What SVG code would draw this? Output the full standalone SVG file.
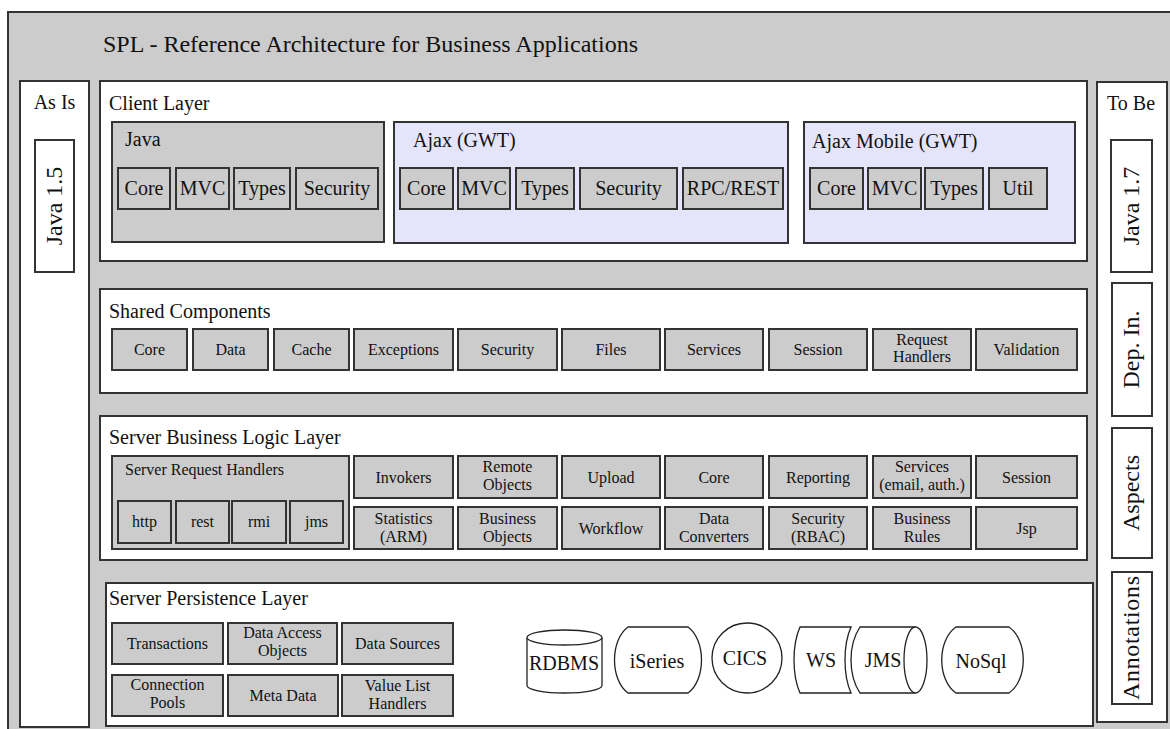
<svg xmlns="http://www.w3.org/2000/svg" width="1170" height="729" viewBox="0 0 1170 729" font-family="'Liberation Serif', 'DejaVu Serif', serif">
<style>
.bg{fill:#cccccc;stroke:#333;stroke-width:2}
.frame{fill:#ffffff;stroke:#333;stroke-width:2}
.gray{fill:#cccccc;stroke:#333;stroke-width:2}
.lav{fill:#e4e4fb;stroke:#333;stroke-width:2}
.btn{fill:#cccccc;stroke:#333;stroke-width:2}
.shp{fill:#ffffff;stroke:#222;stroke-width:1.3}
text{font-family:'Liberation Serif','DejaVu Serif',serif;fill:#111}
.t24{font-size:24px}
.t20{font-size:20px}
.t16{font-size:16px}
.c{text-anchor:middle}
</style>
<rect class="bg" x="8" y="12" width="1200" height="800"/>
<text class="t24" x="103" y="52">SPL - Reference Architecture for Business Applications</text>

<g id="as-is">
<rect class="frame" x="20" y="81" width="69" height="646"/>
<text class="t20 c" x="54.5" y="109">As Is</text>
<g id="java-15">
<rect class="frame" x="35" y="140" width="39" height="132"/>
<text class="t24 c" transform="translate(61.5,206) rotate(-90)">Java 1.5</text>
</g>
</g>

<g id="to-be">
<rect class="frame" x="1097" y="82" width="70" height="640"/>
<text class="t20 c" x="1131" y="110">To Be</text>
<g id="java-17">
<rect class="frame" x="1111" y="140" width="41" height="132"/>
<text class="t24 c" transform="translate(1139,206) rotate(-90)">Java 1.7</text>
</g>
<g id="dep-in">
<rect class="frame" x="1112" y="283" width="40" height="133"/>
<text class="t24 c" transform="translate(1139,349.5) rotate(-90)">Dep. In.</text>
</g>
<g id="aspects">
<rect class="frame" x="1112" y="428" width="40" height="130"/>
<text class="t24 c" transform="translate(1139,493) rotate(-90)">Aspects</text>
</g>
<g id="annotations">
<rect class="frame" x="1112" y="572" width="40" height="132"/>
<text class="t24 c" transform="translate(1139,638) rotate(-90)" textLength="124" lengthAdjust="spacing">Annotations</text>
</g>
</g>

<g id="client-layer">
<rect class="frame" x="100" y="81" width="987" height="180"/>
<text class="t20" x="109" y="110">Client Layer</text>
<g id="client-java">
<rect class="gray" x="112" y="122" width="272" height="120"/>
<text class="t20" x="125" y="146">Java</text>
<g id="cj-core"><rect class="btn" x="118" y="168" width="52" height="41"/><text class="t20 c" x="144" y="195">Core</text></g>
<g id="cj-mvc"><rect class="btn" x="176" y="168" width="53" height="41"/><text class="t20 c" x="202.5" y="195">MVC</text></g>
<g id="cj-types"><rect class="btn" x="234" y="168" width="56" height="41"/><text class="t20 c" x="262" y="195">Types</text></g>
<g id="cj-security"><rect class="btn" x="296" y="168" width="82" height="41"/><text class="t20 c" x="337" y="195">Security</text></g>
</g>
<g id="client-ajax">
<rect class="lav" x="394" y="122" width="394" height="121"/>
<text class="t20" x="413" y="147">Ajax (GWT)</text>
<g id="ca-core"><rect class="btn" x="400" y="168" width="53" height="41"/><text class="t20 c" x="426.5" y="195">Core</text></g>
<g id="ca-mvc"><rect class="btn" x="458" y="168" width="52" height="41"/><text class="t20 c" x="484" y="195">MVC</text></g>
<g id="ca-types"><rect class="btn" x="516" y="168" width="58" height="41"/><text class="t20 c" x="545" y="195">Types</text></g>
<g id="ca-security"><rect class="btn" x="580" y="168" width="97" height="41"/><text class="t20 c" x="628.5" y="195">Security</text></g>
<g id="ca-rpc"><rect class="btn" x="683" y="168" width="100" height="41"/><text class="t20 c" x="733" y="195">RPC/REST</text></g>
</g>
<g id="client-mobile">
<rect class="lav" x="804" y="122" width="271" height="121"/>
<text class="t20" x="812" y="148">Ajax Mobile (GWT)</text>
<g id="cm-core"><rect class="btn" x="810" y="168" width="53" height="41"/><text class="t20 c" x="836.5" y="195">Core</text></g>
<g id="cm-mvc"><rect class="btn" x="868" y="168" width="53" height="41"/><text class="t20 c" x="894.5" y="195">MVC</text></g>
<g id="cm-types"><rect class="btn" x="925" y="168" width="58" height="41"/><text class="t20 c" x="954" y="195">Types</text></g>
<g id="cm-util"><rect class="btn" x="989" y="168" width="58" height="41"/><text class="t20 c" x="1018" y="195">Util</text></g>
</g>
</g>

<g id="shared-components">
<rect class="frame" x="100" y="289" width="987" height="104"/>
<text class="t20" x="109" y="318">Shared Components</text>
<g id="sc-core"><rect class="btn" x="112" y="329" width="75" height="41"/><text class="t16 c" x="149.5" y="355">Core</text></g>
<g id="sc-data"><rect class="btn" x="193" y="329" width="75" height="41"/><text class="t16 c" x="230.5" y="355">Data</text></g>
<g id="sc-cache"><rect class="btn" x="274" y="329" width="75" height="41"/><text class="t16 c" x="311.5" y="355">Cache</text></g>
<g id="sc-exceptions"><rect class="btn" x="354" y="329" width="99" height="41"/><text class="t16 c" x="403.5" y="355">Exceptions</text></g>
<g id="sc-security"><rect class="btn" x="458" y="329" width="99" height="41"/><text class="t16 c" x="507.5" y="355">Security</text></g>
<g id="sc-files"><rect class="btn" x="562" y="329" width="98" height="41"/><text class="t16 c" x="611" y="355">Files</text></g>
<g id="sc-services"><rect class="btn" x="665" y="329" width="98" height="41"/><text class="t16 c" x="714" y="355">Services</text></g>
<g id="sc-session"><rect class="btn" x="769" y="329" width="98" height="41"/><text class="t16 c" x="818" y="355">Session</text></g>
<g id="sc-request-handlers"><rect class="btn" x="873" y="329" width="98" height="41"/><text class="t16 c" x="922" y="345">Request</text><text class="t16 c" x="922" y="362">Handlers</text></g>
<g id="sc-validation"><rect class="btn" x="976" y="329" width="101" height="41"/><text class="t16 c" x="1026.5" y="355">Validation</text></g>
</g>

<g id="server-business-logic">
<rect class="frame" x="100" y="416" width="987" height="144"/>
<text class="t20" x="109" y="444">Server Business Logic Layer</text>
<g id="server-request-handlers">
<rect class="gray" x="112" y="456" width="237" height="93"/>
<text class="t16" x="125" y="475">Server Request Handlers</text>
<g id="srh-http"><rect class="btn" x="118" y="501" width="53" height="42"/><text class="t16 c" x="144.5" y="527">http</text></g>
<g id="srh-rest"><rect class="btn" x="176" y="501" width="53" height="42"/><text class="t16 c" x="202.5" y="527">rest</text></g>
<g id="srh-rmi"><rect class="btn" x="232" y="501" width="54" height="42"/><text class="t16 c" x="259" y="527">rmi</text></g>
<g id="srh-jms"><rect class="btn" x="290" y="501" width="53" height="42"/><text class="t16 c" x="316.5" y="527">jms</text></g>
</g>
<g id="bl-invokers"><rect class="btn" x="354" y="456" width="99" height="42"/><text class="t16 c" x="403.5" y="482.5">Invokers</text></g>
<g id="bl-remote-objects"><rect class="btn" x="458" y="456" width="99" height="42"/><text class="t16 c" x="507.5" y="472">Remote</text><text class="t16 c" x="507.5" y="490">Objects</text></g>
<g id="bl-upload"><rect class="btn" x="562" y="456" width="98" height="42"/><text class="t16 c" x="611" y="482.5">Upload</text></g>
<g id="bl-core"><rect class="btn" x="665" y="456" width="98" height="42"/><text class="t16 c" x="714" y="482.5">Core</text></g>
<g id="bl-reporting"><rect class="btn" x="769" y="456" width="98" height="42"/><text class="t16 c" x="818" y="482.5">Reporting</text></g>
<g id="bl-services"><rect class="btn" x="873" y="456" width="98" height="42"/><text class="t16 c" x="922" y="472">Services</text><text class="t16 c" x="922" y="490">(email, auth.)</text></g>
<g id="bl-session"><rect class="btn" x="976" y="456" width="101" height="42"/><text class="t16 c" x="1026.5" y="482.5">Session</text></g>
<g id="bl-statistics"><rect class="btn" x="354" y="507" width="99" height="42"/><text class="t16 c" x="403.5" y="524">Statistics</text><text class="t16 c" x="403.5" y="542">(ARM)</text></g>
<g id="bl-business-objects"><rect class="btn" x="458" y="507" width="99" height="42"/><text class="t16 c" x="507.5" y="524">Business</text><text class="t16 c" x="507.5" y="542">Objects</text></g>
<g id="bl-workflow"><rect class="btn" x="562" y="507" width="98" height="42"/><text class="t16 c" x="611" y="533.5">Workflow</text></g>
<g id="bl-data-converters"><rect class="btn" x="665" y="507" width="98" height="42"/><text class="t16 c" x="714" y="524">Data</text><text class="t16 c" x="714" y="542">Converters</text></g>
<g id="bl-security"><rect class="btn" x="769" y="507" width="98" height="42"/><text class="t16 c" x="818" y="524">Security</text><text class="t16 c" x="818" y="542">(RBAC)</text></g>
<g id="bl-business-rules"><rect class="btn" x="873" y="507" width="98" height="42"/><text class="t16 c" x="922" y="524">Business</text><text class="t16 c" x="922" y="542">Rules</text></g>
<g id="bl-jsp"><rect class="btn" x="976" y="507" width="101" height="42"/><text class="t16 c" x="1026.5" y="533.5">Jsp</text></g>
</g>

<g id="server-persistence">
<rect class="frame" x="106" y="583" width="987" height="143"/>
<text class="t20" x="109" y="605">Server Persistence Layer</text>
<g id="sp-transactions"><rect class="btn" x="112" y="623" width="111" height="41"/><text class="t16 c" x="167.5" y="649">Transactions</text></g>
<g id="sp-dao"><rect class="btn" x="228" y="623" width="109" height="41"/><text class="t16 c" x="282.5" y="638">Data Access</text><text class="t16 c" x="282.5" y="656">Objects</text></g>
<g id="sp-data-sources"><rect class="btn" x="342" y="623" width="111" height="41"/><text class="t16 c" x="397.5" y="649">Data Sources</text></g>
<g id="sp-connection-pools"><rect class="btn" x="112" y="675" width="111" height="41"/><text class="t16 c" x="167.5" y="690">Connection</text><text class="t16 c" x="167.5" y="708">Pools</text></g>
<g id="sp-meta-data"><rect class="btn" x="228" y="675" width="110" height="41"/><text class="t16 c" x="283" y="701">Meta Data</text></g>
<g id="sp-value-list"><rect class="btn" x="342" y="675" width="111" height="41"/><text class="t16 c" x="397.5" y="691">Value List</text><text class="t16 c" x="397.5" y="709">Handlers</text></g>
<g id="rdbms">
<path class="shp" d="M527,637.5 A37.5,7.5 0 0 1 602,637.5 L602,685.5 A37.5,7.5 0 0 1 527,685.5 Z"/>
<path class="shp" fill="none" d="M527,637.5 A37.5,7.5 0 0 0 602,637.5"/>
<text class="t20 c" x="564" y="670">RDBMS</text>
</g>
<g id="iseries">
<path class="shp" d="M628,627 L688,627 C706,640 706,680 688,693 L628,693 C610,680 610,640 628,627 Z"/>
<text class="t20 c" x="657" y="668">iSeries</text>
</g>
<g id="cics">
<circle class="shp" cx="747" cy="658" r="35"/>
<text class="t20 c" x="745" y="665">CICS</text>
</g>
<g id="ws">
<path class="shp" d="M800,627 L851,627 C843,645 843,675 851,693 L800,693 C792,675 792,645 800,627 Z"/>
<text class="t20 c" x="821" y="667">WS</text>
</g>
<g id="jms">
<path class="shp" d="M860,627 L915.5,627 A11.5,33 0 0 1 915.5,693 L860,693 C848,675 848,645 860,627 Z"/>
<path class="shp" fill="none" d="M915.5,627 A11.5,33 0 0 0 915.5,693"/>
<text class="t20 c" x="883" y="667">JMS</text>
</g>
<g id="nosql">
<path class="shp" d="M956,627 L1009,627 C1028,640 1028,680 1009,693 L956,693 C937,680 937,640 956,627 Z"/>
<text class="t20 c" x="981" y="668">NoSql</text>
</g>
</g>

<g id="connectors"></g>
</svg>
